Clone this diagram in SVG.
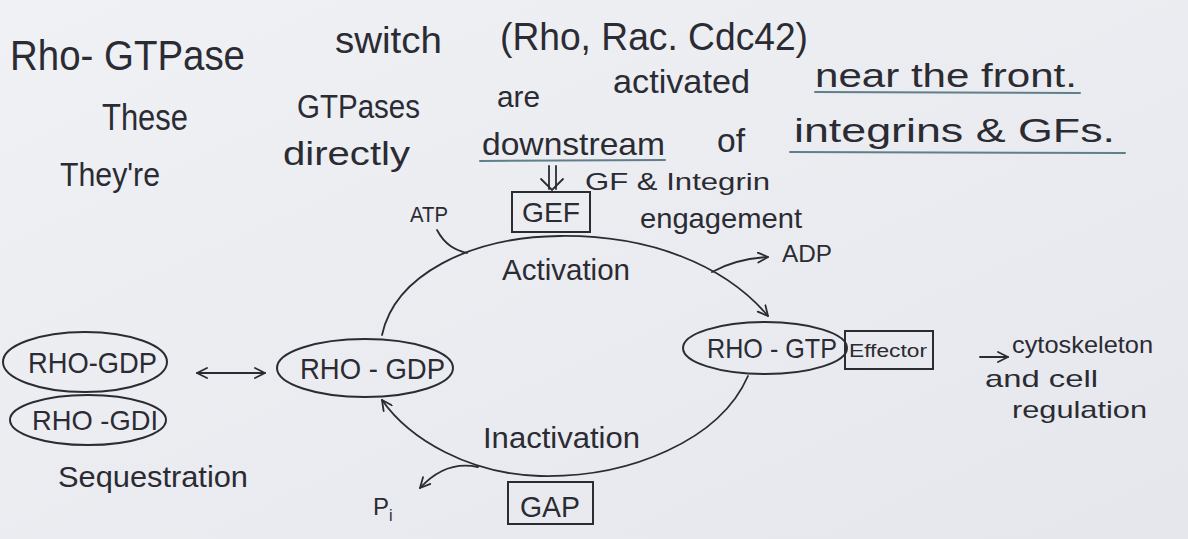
<svg xmlns="http://www.w3.org/2000/svg" width="1188" height="539" viewBox="0 0 1188 539">
  <defs>
    <linearGradient id="paper" x1="0" y1="0" x2="1" y2="1">
      <stop offset="0" stop-color="#f0f1f5"/>
      <stop offset="1" stop-color="#e6e7ec"/>
    </linearGradient>
    <marker id="open" viewBox="0 0 12 12" refX="11" refY="6" markerWidth="12" markerHeight="12" markerUnits="userSpaceOnUse" orient="auto-start-reverse">
      <path d="M1,1 L11,6 L1,11" fill="none" stroke="#2b2b33" stroke-width="1.8" stroke-linecap="round" stroke-linejoin="round"/>
    </marker>
    <style>
      .ink { fill: #2b2b33; font-family: "Liberation Sans", "DejaVu Sans", sans-serif; }
      .line { fill: none; stroke: #2b2b33; stroke-width: 1.8; stroke-linecap: round; }
      .shape { fill: none; stroke: #2b2b33; stroke-width: 2; }
      .under { fill: none; stroke: #5f7f8c; stroke-width: 2; stroke-linecap: round; }
    </style>
  </defs>

  <rect width="1188" height="539" fill="url(#paper)"/>

  <!-- heading notes -->
  <g id="notes" class="ink">
    <text x="10" y="70" font-size="42" textLength="235" lengthAdjust="spacingAndGlyphs">Rho- GTPase</text>
    <text x="335" y="53" font-size="36" textLength="107" lengthAdjust="spacingAndGlyphs">switch</text>
    <text x="500" y="50" font-size="38" textLength="308" lengthAdjust="spacingAndGlyphs">(Rho, Rac. Cdc42)</text>

    <text x="102" y="130" font-size="36" textLength="86" lengthAdjust="spacingAndGlyphs">These</text>
    <text x="297" y="118" font-size="34" textLength="123" lengthAdjust="spacingAndGlyphs">GTPases</text>
    <text x="497" y="107" font-size="30" textLength="43" lengthAdjust="spacingAndGlyphs">are</text>
    <text x="613" y="93" font-size="34" textLength="137" lengthAdjust="spacingAndGlyphs">activated</text>
    <text x="815" y="87" font-size="34" textLength="262" lengthAdjust="spacingAndGlyphs">near the front.</text>

    <text x="60" y="186" font-size="34" textLength="100" lengthAdjust="spacingAndGlyphs">They're</text>
    <text x="283" y="165" font-size="34" textLength="127" lengthAdjust="spacingAndGlyphs">directly</text>
    <text x="482" y="155" font-size="32" textLength="183" lengthAdjust="spacingAndGlyphs">downstream</text>
    <text x="717" y="152" font-size="34" textLength="28" lengthAdjust="spacingAndGlyphs">of</text>
    <text x="794" y="142" font-size="34" textLength="321" lengthAdjust="spacingAndGlyphs">integrins &amp; GFs.</text>

    <line class="under" x1="815" y1="92" x2="1080" y2="93"/>
    <line class="under" x1="480" y1="161" x2="665" y2="160"/>
    <line class="under" x1="790" y1="152" x2="1125" y2="153"/>

    <text x="585" y="190" font-size="24" textLength="185" lengthAdjust="spacingAndGlyphs">GF &amp; Integrin</text>
    <text x="640" y="228" font-size="28" textLength="162" lengthAdjust="spacingAndGlyphs">engagement</text>
    <text x="410" y="222" font-size="22" textLength="38" lengthAdjust="spacingAndGlyphs">ATP</text>
    <text x="782" y="262" font-size="24" textLength="50" lengthAdjust="spacingAndGlyphs">ADP</text>
    <text x="502" y="280" font-size="30" textLength="128" lengthAdjust="spacingAndGlyphs">Activation</text>
    <text x="483" y="448" font-size="30" textLength="157" lengthAdjust="spacingAndGlyphs">Inactivation</text>
    <text x="373" y="515" font-size="24">P<tspan font-size="16" dy="6">i</tspan></text>
    <text x="58" y="487" font-size="30" textLength="190" lengthAdjust="spacingAndGlyphs">Sequestration</text>
    <text x="1012" y="353" font-size="24" textLength="141" lengthAdjust="spacingAndGlyphs">cytoskeleton</text>
    <text x="985" y="387" font-size="24" textLength="113" lengthAdjust="spacingAndGlyphs">and cell</text>
    <text x="1012" y="418" font-size="24" textLength="135" lengthAdjust="spacingAndGlyphs">regulation</text>
  </g>

  <!-- nodes -->
  <g id="rho-gdp-sequestered">
    <ellipse class="shape" cx="85" cy="362" rx="82" ry="30"/>
    <text class="ink" x="28" y="373" font-size="30" textLength="129" lengthAdjust="spacingAndGlyphs">RHO-GDP</text>
  </g>
  <g id="rho-gdi">
    <ellipse class="shape" cx="88" cy="420" rx="78" ry="25"/>
    <text class="ink" x="32" y="430" font-size="28" textLength="126" lengthAdjust="spacingAndGlyphs">RHO -GDI</text>
  </g>
  <g id="rho-gdp">
    <ellipse class="shape" cx="365" cy="368" rx="88" ry="29"/>
    <text class="ink" x="300" y="379" font-size="30" textLength="145" lengthAdjust="spacingAndGlyphs">RHO - GDP</text>
  </g>
  <g id="rho-gtp">
    <ellipse class="shape" cx="765" cy="348" rx="82" ry="26"/>
    <text class="ink" x="707" y="358" font-size="28" textLength="130" lengthAdjust="spacingAndGlyphs">RHO - GTP</text>
  </g>
  <g id="effector">
    <rect class="shape" x="845" y="331" width="88" height="38"/>
    <text class="ink" x="849" y="357" font-size="18" textLength="78" lengthAdjust="spacingAndGlyphs">Effector</text>
  </g>
  <g id="gef">
    <rect class="shape" x="512" y="192" width="78" height="40"/>
    <text class="ink" x="522" y="222" font-size="28" textLength="58" lengthAdjust="spacingAndGlyphs">GEF</text>
  </g>
  <g id="gap">
    <rect class="shape" x="508" y="482" width="85" height="42"/>
    <text class="ink" x="520" y="517" font-size="30" textLength="60" lengthAdjust="spacingAndGlyphs">GAP</text>
  </g>

  <!-- connectors -->
  <g id="connectors">
    <!-- GF & integrin input into GEF -->
    <line class="line" x1="549" y1="166" x2="549" y2="189"/>
    <line class="line" x1="556" y1="166" x2="556" y2="189"/>
    <path class="line" d="M541,179 L552,190 L563,179"/>
    <!-- activation arc -->
    <path class="line" d="M382,335 C395,275 470,237 560,236 C650,235 725,265 768,316" marker-end="url(#open)"/>
    <path class="line" d="M437,230 C445,245 455,250 467,253"/>
    <path class="line" d="M712,272 C730,262 750,258 768,257" marker-end="url(#open)"/>
    <!-- inactivation arc -->
    <path class="line" d="M748,376 C720,440 630,478 540,476 C470,474 410,440 382,400" marker-end="url(#open)"/>
    <path class="line" d="M478,467 C460,463 440,466 420,488" marker-end="url(#open)"/>
    <!-- sequestration exchange -->
    <line class="line" x1="197" y1="373" x2="265" y2="373" marker-start="url(#open)" marker-end="url(#open)"/>
    <!-- downstream output -->
    <line class="line" x1="980" y1="357" x2="1008" y2="357" marker-end="url(#open)"/>
  </g>
</svg>
